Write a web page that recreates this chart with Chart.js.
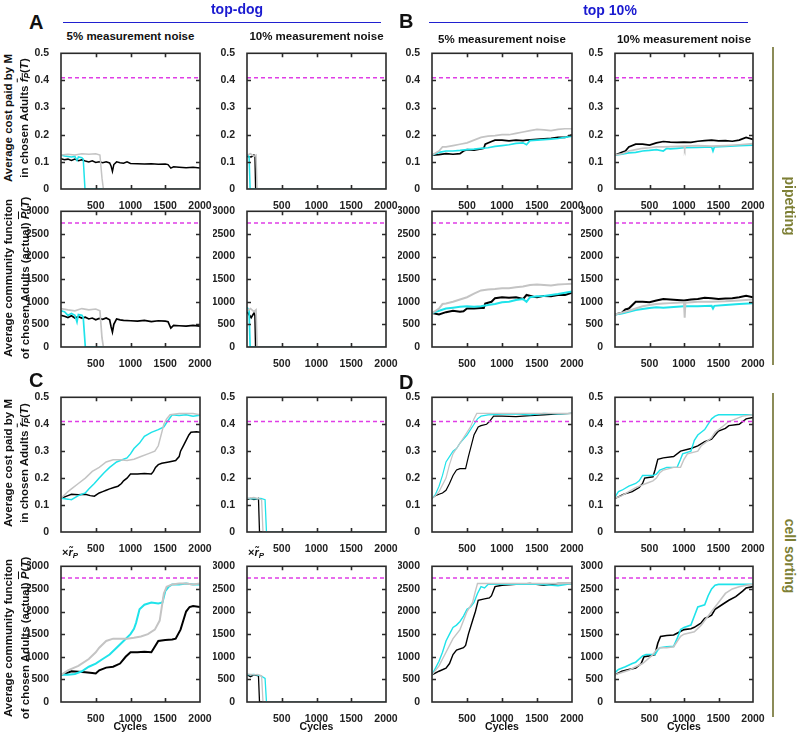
<!DOCTYPE html>
<html>
<head>
<meta charset="utf-8">
<script src="https://cdn.jsdelivr.net/npm/chart.js@4"></script>
<style>
  body { margin: 0; background: #fff; }
  #fig { position: relative; width: 800px; height: 734px; font-family: "Liberation Sans", Arial, sans-serif; font-weight: bold; color: #111; }
  #fig canvas { position: absolute; }
  .t { position: absolute; white-space: nowrap; transform: translate(-50%, -50%); }
  .rot { position: absolute; white-space: nowrap; transform: translate(-50%, -50%) rotate(-90deg); font-size: 11.5px; }
  .rotcw { position: absolute; white-space: nowrap; transform: translate(-50%, -50%) rotate(90deg); font-size: 14px; color: #7d7f35; }
  .letter { position: absolute; font-size: 20px; }
  sub { font-size: 0.72em; vertical-align: -0.3em; }
</style>
</head>
<body>
<div id="fig"></div>
<script>
// target lines (magenta dashed)
const targetCost = 0.41;
const targetFunc = 2740;

// ---- A: top-dog, 5% noise ----
const costA5Black = [[0,0.112],[50,0.108],[100,0.11],[150,0.105],[200,0.11],[250,0.104],[300,0.108],[350,0.103],[400,0.1],[450,0.104],[500,0.098],[550,0.1],[600,0.097],[650,0.1],[700,0.096],[720,0.085],[740,0.065],[760,0.09],[800,0.1],[850,0.097],[900,0.095],[950,0.1],[1000,0.094],[1100,0.093],[1200,0.092],[1300,0.093],[1400,0.091],[1500,0.092],[1540,0.09],[1580,0.077],[1620,0.082],[1700,0.08],[1800,0.078],[1900,0.08],[2000,0.077]];
const costA5Cyan = [[0,0.125],[50,0.122],[100,0.12],[150,0.118],[200,0.12],[230,0.105],[250,0.118],[300,0.115],[320,0.11],[345,0],[2000,0]];
const costA5Gray = [[0,0.125],[100,0.128],[200,0.125],[300,0.13],[400,0.128],[500,0.13],[560,0.125],[590,0.04],[610,0],[2000,0]];
const funcA5Black = [[0,700],[50,680],[100,650],[150,690],[200,640],[250,670],[300,640],[350,660],[400,620],[450,640],[500,600],[550,630],[600,610],[650,640],[700,600],[720,450],[740,330],[760,500],[800,620],[850,600],[900,590],[1000,580],[1100,570],[1200,590],[1300,560],[1400,580],[1500,570],[1540,560],[1580,420],[1620,480],[1700,470],[1800,460],[1900,480],[2000,460]];
const funcA5Cyan = [[0,800],[50,780],[100,700],[150,740],[200,700],[230,550],[250,720],[300,700],[320,650],[350,0],[2000,0]];
const funcA5Gray = [[0,850],[100,820],[200,800],[300,850],[400,820],[500,840],[560,800],[590,200],[610,0],[2000,0]];

// ---- A: top-dog, 10% noise ----
const costA10Black = [[0,0.12],[60,0.118],[100,0.125],[115,0.12],[125,0],[2000,0]];
const costA10Cyan = [[0,0.125],[30,0.12],[45,0],[2000,0]];
const costA10Gray = [[0,0.125],[50,0.13],[100,0.12],[130,0.125],[145,0],[2000,0]];
const funcA10Black = [[0,780],[60,650],[100,750],[115,700],[125,0],[2000,0]];
const funcA10Cyan = [[0,880],[30,800],[45,0],[2000,0]];
const funcA10Gray = [[0,800],[50,850],[100,780],[130,820],[145,0],[2000,0]];

// ---- B: top 10%, 5% noise ----
const costB5Black = [[0,0.125],[100,0.127],[200,0.13],[300,0.128],[400,0.13],[450,0.14],[500,0.145],[600,0.143],[700,0.148],[740,0.15],[760,0.165],[850,0.175],[900,0.18],[1000,0.18],[1100,0.177],[1200,0.18],[1300,0.178],[1350,0.18],[1500,0.183],[1600,0.185],[1700,0.187],[1800,0.19],[1900,0.19],[2000,0.2]];
const costB5Cyan = [[0,0.125],[100,0.135],[200,0.14],[300,0.14],[400,0.142],[500,0.145],[600,0.147],[700,0.15],[800,0.152],[900,0.157],[1000,0.16],[1100,0.163],[1200,0.168],[1300,0.17],[1350,0.163],[1400,0.178],[1500,0.18],[1600,0.182],[1700,0.184],[1800,0.186],[1900,0.19],[2000,0.195]];
const costB5Gray = [[0,0.125],[100,0.14],[150,0.155],[200,0.155],[300,0.16],[400,0.165],[500,0.17],[600,0.18],[700,0.19],[800,0.195],[900,0.197],[1000,0.2],[1100,0.2],[1200,0.205],[1300,0.21],[1400,0.215],[1500,0.22],[1600,0.218],[1700,0.215],[1800,0.22],[1900,0.222],[2000,0.222]];
const funcB5Black = [[0,750],[100,720],[200,770],[300,800],[400,780],[450,790],[500,850],[600,850],[700,860],[740,860],[760,960],[850,1000],[900,1080],[1000,1100],[1100,1090],[1200,1100],[1300,1060],[1350,1150],[1450,1110],[1500,1100],[1600,1130],[1700,1120],[1800,1150],[1900,1150],[2000,1200]];
const funcB5Cyan = [[0,750],[100,800],[200,850],[300,870],[400,890],[500,900],[600,890],[700,900],[800,930],[900,950],[1000,990],[1100,1000],[1200,1040],[1300,1060],[1350,1000],[1400,1100],[1500,1120],[1600,1130],[1700,1150],[1800,1170],[1900,1200],[2000,1230]];
const funcB5Gray = [[0,750],[100,850],[150,950],[200,960],[300,1000],[400,1050],[500,1100],[600,1180],[700,1250],[800,1270],[900,1280],[1000,1300],[1100,1300],[1200,1320],[1300,1340],[1400,1370],[1500,1380],[1600,1370],[1700,1360],[1800,1380],[1900,1390],[2000,1400]];

// ---- B: top 10%, 10% noise ----
const costB10Black = [[0,0.125],[100,0.135],[150,0.14],[200,0.155],[300,0.165],[400,0.165],[500,0.162],[600,0.17],[700,0.175],[800,0.173],[900,0.172],[1000,0.173],[1100,0.172],[1200,0.176],[1300,0.178],[1400,0.18],[1500,0.177],[1600,0.178],[1700,0.176],[1800,0.18],[1900,0.19],[2000,0.183]];
const costB10Cyan = [[0,0.125],[100,0.128],[200,0.133],[300,0.135],[400,0.14],[500,0.142],[600,0.145],[700,0.14],[750,0.15],[800,0.148],[900,0.15],[1000,0.152],[1200,0.153],[1400,0.155],[1420,0.14],[1440,0.155],[1600,0.157],[1800,0.16],[2000,0.162]];
const costB10Gray = [[0,0.125],[100,0.13],[200,0.14],[300,0.145],[400,0.15],[500,0.152],[600,0.155],[700,0.155],[800,0.156],[900,0.157],[1000,0.158],[1010,0.147],[1020,0.158],[1200,0.16],[1400,0.158],[1600,0.16],[1800,0.163],[2000,0.167]];
const funcB10Black = [[0,720],[100,760],[150,830],[200,850],[300,1000],[400,1000],[500,990],[600,1030],[700,1060],[800,1050],[900,1040],[1000,1030],[1100,1050],[1200,1060],[1300,1090],[1400,1080],[1500,1060],[1600,1070],[1700,1080],[1800,1100],[1900,1130],[2000,1100]];
const funcB10Cyan = [[0,720],[100,740],[200,780],[300,820],[400,840],[500,860],[600,880],[700,870],[800,880],[900,890],[1000,900],[1200,900],[1400,910],[1420,850],[1440,910],[1600,930],[1800,950],[2000,970]];
const funcB10Gray = [[0,720],[100,760],[200,800],[300,850],[400,900],[500,930],[600,950],[700,960],[800,970],[900,980],[1000,990],[1010,650],[1020,980],[1200,1000],[1400,1000],[1600,1010],[1800,1030],[2000,1050]];

// ---- C: top-dog, 5% noise, cell sorting ----
const costC5Black = [[0,0.125],[100,0.135],[150,0.14],[250,0.138],[350,0.14],[420,0.135],[480,0.133],[550,0.145],[600,0.15],[650,0.155],[700,0.16],[760,0.165],[820,0.17],[870,0.18],[900,0.19],[950,0.2],[1000,0.215],[1100,0.215],[1200,0.217],[1300,0.215],[1330,0.225],[1360,0.24],[1400,0.25],[1450,0.255],[1550,0.26],[1650,0.265],[1700,0.28],[1720,0.3],[1760,0.32],[1800,0.34],[1840,0.36],[1870,0.37],[1950,0.372],[2000,0.37]];
const costC5Cyan = [[0,0.125],[100,0.122],[150,0.12],[250,0.135],[350,0.145],[400,0.16],[480,0.18],[550,0.2],[620,0.22],[700,0.24],[800,0.26],[900,0.27],[950,0.275],[1000,0.29],[1050,0.31],[1130,0.33],[1200,0.355],[1300,0.37],[1400,0.38],[1480,0.39],[1530,0.41],[1600,0.435],[1700,0.432],[1800,0.435],[1900,0.43],[2000,0.433]];
const costC5Gray = [[0,0.125],[100,0.15],[150,0.16],[250,0.18],[350,0.2],[450,0.225],[550,0.24],[650,0.26],[750,0.268],[850,0.268],[950,0.265],[1050,0.27],[1150,0.28],[1250,0.29],[1350,0.3],[1400,0.32],[1450,0.37],[1480,0.4],[1520,0.42],[1570,0.435],[1700,0.44],[1800,0.44],[1900,0.44],[2000,0.435]];
const funcC5Black = [[0,600],[100,650],[150,680],[250,670],[350,660],[450,640],[500,630],[550,700],[650,760],[750,780],[850,850],[930,1000],[1000,1100],[1100,1100],[1200,1110],[1300,1100],[1340,1200],[1400,1350],[1500,1370],[1600,1380],[1650,1400],[1720,1600],[1760,1800],[1800,2000],[1850,2100],[1900,2120],[2000,2100]];
const funcC5Cyan = [[0,600],[100,600],[200,620],[300,680],[400,780],[500,850],[600,950],[700,1050],[800,1200],[900,1350],[1000,1500],[1050,1620],[1080,1750],[1130,2050],[1200,2150],[1300,2200],[1400,2180],[1460,2200],[1500,2450],[1550,2550],[1600,2600],[1700,2600],[1800,2620],[1900,2600],[2000,2600]];
const funcC5Gray = [[0,600],[100,700],[250,800],[400,950],[500,1100],[550,1200],[650,1350],[750,1400],[850,1400],[950,1400],[1050,1420],[1150,1450],[1250,1500],[1350,1600],[1420,1800],[1450,2100],[1480,2400],[1520,2550],[1600,2600],[1700,2620],[1800,2620],[1900,2600],[2000,2620]];

// ---- C: top-dog, 10% noise, cell sorting ----
const costC10Black = [[0,0.12],[50,0.125],[100,0.12],[165,0.125],[180,0],[2000,0]];
const costC10Cyan = [[0,0.125],[100,0.123],[200,0.125],[260,0.12],[280,0],[2000,0]];
const costC10Gray = [[0,0.125],[100,0.128],[150,0.125],[210,0.12],[230,0],[2000,0]];
const funcC10Black = [[0,600],[50,560],[100,600],[165,580],[180,0],[2000,0]];
const funcC10Cyan = [[0,600],[100,610],[200,580],[260,520],[280,0],[2000,0]];
const funcC10Gray = [[0,620],[100,600],[150,610],[210,580],[230,0],[2000,0]];

// ---- D: top 10%, 5% noise, cell sorting ----
const costD5Black = [[0,0.125],[50,0.135],[100,0.14],[150,0.145],[200,0.155],[250,0.18],[300,0.21],[350,0.23],[400,0.235],[480,0.235],[520,0.28],[560,0.32],[600,0.36],[640,0.38],[660,0.39],[700,0.395],[780,0.4],[820,0.41],[880,0.43],[1000,0.43],[1200,0.428],[1400,0.432],[1600,0.435],[1800,0.438],[2000,0.44]];
const costD5Cyan = [[0,0.125],[50,0.14],[100,0.17],[150,0.21],[200,0.26],[250,0.28],[300,0.3],[350,0.31],[400,0.33],[450,0.345],[500,0.36],[550,0.38],[600,0.4],[650,0.42],[700,0.43],[800,0.435],[1000,0.437],[1200,0.438],[1400,0.435],[1600,0.44],[1800,0.438],[2000,0.44]];
const costD5Gray = [[0,0.125],[50,0.135],[100,0.15],[150,0.175],[200,0.2],[250,0.25],[300,0.29],[350,0.31],[400,0.33],[450,0.35],[500,0.37],[550,0.39],[600,0.42],[640,0.44],[800,0.44],[1000,0.44],[1500,0.44],[2000,0.44]];
const funcD5Black = [[0,600],[100,680],[200,750],[250,850],[300,1050],[350,1150],[450,1200],[480,1250],[520,1500],[580,1800],[620,2000],[660,2250],[750,2280],[820,2300],[850,2350],[900,2550],[1000,2580],[1200,2600],[1400,2620],[1600,2580],[1800,2620],[2000,2620]];
const funcD5Cyan = [[0,600],[100,900],[150,1100],[200,1350],[250,1500],[300,1650],[350,1700],[400,1780],[450,1900],[500,2050],[550,2100],[600,2200],[650,2400],[700,2550],[750,2520],[800,2600],[1000,2600],[1500,2610],[1800,2570],[2000,2620]];
const funcD5Gray = [[0,600],[100,800],[150,950],[200,1100],[300,1400],[400,1600],[450,1800],[500,2000],[580,2200],[620,2450],[650,2620],[800,2620],[1000,2620],[1500,2620],[2000,2620]];

// ---- D: top 10%, 10% noise, cell sorting ----
const costD10Black = [[0,0.125],[50,0.13],[120,0.14],[250,0.15],[350,0.165],[400,0.18],[430,0.2],[550,0.205],[580,0.23],[620,0.27],[700,0.275],[850,0.28],[950,0.3],[1100,0.31],[1200,0.32],[1300,0.335],[1400,0.345],[1450,0.36],[1500,0.375],[1600,0.385],[1650,0.395],[1800,0.4],[1900,0.42],[2000,0.425]];
const costD10Cyan = [[0,0.13],[50,0.15],[100,0.155],[200,0.17],[300,0.18],[350,0.19],[400,0.21],[450,0.21],[550,0.21],[600,0.215],[650,0.23],[750,0.24],[900,0.24],[950,0.27],[980,0.29],[1100,0.3],[1150,0.34],[1200,0.36],[1250,0.37],[1300,0.38],[1350,0.4],[1400,0.42],[1450,0.43],[1500,0.435],[1700,0.435],[1900,0.435],[2000,0.435]];
const costD10Gray = [[0,0.125],[100,0.135],[200,0.15],[300,0.165],[400,0.175],[450,0.18],[550,0.19],[600,0.2],[650,0.22],[700,0.23],[850,0.24],[950,0.24],[1000,0.27],[1050,0.29],[1200,0.3],[1250,0.32],[1300,0.33],[1400,0.35],[1450,0.37],[1550,0.39],[1650,0.41],[1750,0.42],[1850,0.43],[2000,0.435]];
const funcD10Black = [[0,600],[100,680],[200,720],[300,750],[380,850],[420,1000],[500,1020],[580,1050],[620,1300],[660,1450],[750,1470],[850,1480],[900,1520],[1000,1600],[1100,1620],[1150,1650],[1250,1750],[1300,1850],[1350,1880],[1400,1920],[1450,2050],[1550,2150],[1650,2250],[1750,2330],[1850,2450],[1900,2520],[2000,2550]];
const funcD10Cyan = [[0,650],[50,720],[150,780],[250,850],[300,880],[350,950],[400,1020],[450,1050],[580,1050],[620,1150],[650,1200],[750,1220],[850,1230],[900,1400],[950,1600],[1000,1650],[1100,1700],[1150,1900],[1200,2100],[1300,2150],[1350,2350],[1400,2500],[1450,2580],[1500,2600],[2000,2600]];
const funcD10Gray = [[0,600],[100,650],[200,700],[300,780],[400,850],[500,980],[550,1050],[600,1150],[650,1200],[750,1200],[850,1220],[950,1450],[1000,1500],[1150,1550],[1250,1700],[1300,1800],[1400,2000],[1500,2200],[1600,2400],[1700,2500],[1800,2550],[1900,2580],[2000,2600]];

const BLACK = '#000000', CYAN = '#1fe3ea', GRAY = '#c4c4c4', MAGENTA = '#e03ee6';

// plot area boxes (pixels) for the 4x4 grid
const colBox = [[61, 200], [247, 386], [432, 572], [615, 753]];
const rowBox = [[51, 189], [209, 347], [395, 532], [564, 702]];

const panels = [
  {row: 0, col: 0, kind: 'cost', lw: 1.5, s: [costA5Black, costA5Cyan, costA5Gray]},
  {row: 0, col: 1, kind: 'cost', lw: 1.5, s: [costA10Black, costA10Cyan, costA10Gray]},
  {row: 0, col: 2, kind: 'cost', lw: 1.7, s: [costB5Black, costB5Cyan, costB5Gray]},
  {row: 0, col: 3, kind: 'cost', lw: 1.7, s: [costB10Black, costB10Cyan, costB10Gray]},
  {row: 1, col: 0, kind: 'func', lw: 1.7, s: [funcA5Black, funcA5Cyan, funcA5Gray]},
  {row: 1, col: 1, kind: 'func', lw: 1.7, s: [funcA10Black, funcA10Cyan, funcA10Gray]},
  {row: 1, col: 2, kind: 'func', lw: 2, s: [funcB5Black, funcB5Cyan, funcB5Gray]},
  {row: 1, col: 3, kind: 'func', lw: 2, s: [funcB10Black, funcB10Cyan, funcB10Gray]},
  {row: 2, col: 0, kind: 'cost', lw: 1.5, s: [costC5Black, costC5Cyan, costC5Gray]},
  {row: 2, col: 1, kind: 'cost', lw: 1.3, s: [costC10Black, costC10Cyan, costC10Gray]},
  {row: 2, col: 2, kind: 'cost', lw: 1.2, s: [costD5Black, costD5Cyan, costD5Gray]},
  {row: 2, col: 3, kind: 'cost', lw: 1.4, s: [costD10Black, costD10Cyan, costD10Gray]},
  {row: 3, col: 0, kind: 'func', lw: 2, s: [funcC5Black, funcC5Cyan, funcC5Gray]},
  {row: 3, col: 1, kind: 'func', lw: 1.3, s: [funcC10Black, funcC10Cyan, funcC10Gray]},
  {row: 3, col: 2, kind: 'func', lw: 1.4, s: [funcD5Black, funcD5Cyan, funcD5Gray]},
  {row: 3, col: 3, kind: 'func', lw: 1.6, s: [funcD10Black, funcD10Cyan, funcD10Gray]}
];

const fig = document.getElementById('fig');
const tickFont = {family: '"Liberation Sans", Arial, sans-serif', size: 10.5, weight: 'bold'};

// box frame + inward ticks on all four sides
const framePlugin = {
  id: 'frame',
  afterDatasetsDraw(chart) {
    const {ctx, chartArea: a, scales: {x, y}} = chart;
    ctx.save();
    ctx.strokeStyle = '#2a2a2a';
    ctx.lineWidth = 1.6;
    ctx.strokeRect(a.left, a.top, a.right - a.left, a.bottom - a.top);
    ctx.beginPath();
    x.ticks.forEach(t => {
      if (t.value <= x.min || t.value >= x.max) return;
      const px = Math.round(x.getPixelForValue(t.value)) + 0.5;
      ctx.moveTo(px, a.bottom); ctx.lineTo(px, a.bottom - 4);
      ctx.moveTo(px, a.top); ctx.lineTo(px, a.top + 4);
    });
    y.ticks.forEach(t => {
      if (t.value <= y.min || t.value >= y.max) return;
      const py = Math.round(y.getPixelForValue(t.value)) + 0.5;
      ctx.moveTo(a.left, py); ctx.lineTo(a.left + 4, py);
      ctx.moveTo(a.right, py); ctx.lineTo(a.right - 4, py);
    });
    ctx.stroke();
    ctx.restore();
  }
};

const toXY = arr => arr.map(p => ({x: p[0], y: p[1]}));

panels.forEach(p => {
  const [l, r] = colBox[p.col];
  const [t, b] = rowBox[p.row];
  const padL = 34, padT = 8, padR = 16, padB = 22;
  const cv = document.createElement('canvas');
  cv.width = r - l + padL + padR;
  cv.height = b - t + padT + padB;
  cv.style.left = (l - padL) + 'px';
  cv.style.top = (t - padT) + 'px';
  fig.appendChild(cv);

  const isCost = p.kind === 'cost';
  const target = isCost ? targetCost : targetFunc;
  const line = (data, color, w) => ({
    data: toXY(data), borderColor: color, borderWidth: w,
    pointRadius: 0, fill: false, tension: 0
  });

  new Chart(cv.getContext('2d'), {
    type: 'line',
    data: {
      datasets: [
        {data: [{x: 0, y: target}, {x: 2000, y: target}], borderColor: MAGENTA,
         borderWidth: 1.5, borderDash: [4, 3], pointRadius: 0, fill: false},
        line(p.s[2], GRAY, p.lw),
        line(p.s[1], CYAN, p.lw),
        line(p.s[0], BLACK, p.lw)
      ]
    },
    options: {
      responsive: false,
      animation: false,
      devicePixelRatio: 1,
      layout: {padding: {left: 0, top: padT, right: padR, bottom: 0}},
      plugins: {legend: {display: false}, tooltip: {enabled: false}},
      scales: {
        x: {
          type: 'linear', min: 0, max: 2000,
          grid: {display: false}, border: {display: false},
          ticks: {stepSize: 500, autoSkip: false, maxRotation: 0, padding: 3,
                  color: '#222', font: tickFont,
                  callback: v => v === 0 ? '' : String(v)},
          afterFit: s => { s.height = padB; }
        },
        y: {
          type: 'linear', min: 0, max: isCost ? 0.5 : 3000,
          grid: {display: false}, border: {display: false},
          ticks: {stepSize: isCost ? 0.1 : 500, autoSkip: false, padding: 4,
                  color: '#222', font: tickFont,
                  callback: v => isCost ? String(Math.round(v * 10) / 10) : String(v)},
          afterFit: s => { s.width = padL; }
        }
      }
    },
    plugins: [framePlugin]
  });
});

// ---- annotations ----
function addDiv(cls, html, x, y, style) {
  const d = document.createElement('div');
  d.className = cls;
  d.innerHTML = html;
  d.style.left = x + 'px';
  d.style.top = y + 'px';
  if (style) Object.assign(d.style, style);
  fig.appendChild(d);
  return d;
}
function addRule(x, y, w, h, color) {
  const d = document.createElement('div');
  Object.assign(d.style, {position: 'absolute', left: x + 'px', top: y + 'px',
    width: w + 'px', height: h + 'px', background: color});
  fig.appendChild(d);
}

addDiv('t', 'top-dog', 237, 9, {fontSize: '14px', color: '#1a1ad0'});
addDiv('t', 'top 10%', 610, 10, {fontSize: '14px', color: '#1a1ad0'});
addRule(63, 21.5, 318, 1.5, '#2020d0');
addRule(429, 21.5, 319, 1.5, '#2020d0');

const noiseTitles = ['5% measurement noise', '10% measurement noise', '5% measurement noise', '10% measurement noise'];
const noiseY = [36, 36, 39, 39];
noiseTitles.forEach((txt, i) => {
  const [l, r] = colBox[i];
  addDiv('t', txt, (l + r) / 2, noiseY[i], {fontSize: '11.5px'});
});

addDiv('letter', 'A', 29, 11);
addDiv('letter', 'B', 399, 10);
addDiv('letter', 'C', 29, 369);
addDiv('letter', 'D', 399, 371);

// olive brackets on the right
addRule(772, 47, 1.5, 318, '#8c8c58');
addRule(772, 393, 1.5, 324, '#8c8c58');
addDiv('rotcw', 'pipetting', 790, 206);
addDiv('rotcw', 'cell sorting', 790, 556);

// y-axis titles
const costL1 = 'Average cost paid by M';
const costL2 = 'in chosen Adults <i style="text-decoration:overline">f<sub>P</sub></i>(<i>T</i>)';
const funcL1 = 'Average community funciton';
const funcL2 = 'of chosen Adults (actual) <i style="text-decoration:overline">P</i>(<i>T</i>)';
const rowTitleY = [118, 278, 463, 638];
rowTitleY.forEach((cy, i) => {
  const cost = i % 2 === 0;
  addDiv('rot', cost ? costL1 : funcL1, 8, cy);
  addDiv('rot', cost ? costL2 : funcL2, 25, cy);
});

// scale factor notes above row 4
addDiv('letter', '×<i>r̃<sub>P</sub></i>', 62, 546, {fontSize: '11px'});
addDiv('letter', '×<i>r̃<sub>P</sub></i>', 248, 546, {fontSize: '11px'});

// x-axis titles
colBox.forEach(([l, r]) => addDiv('t', 'Cycles', (l + r) / 2, 726, {fontSize: '10.5px'}));
</script>
</body>
</html>
